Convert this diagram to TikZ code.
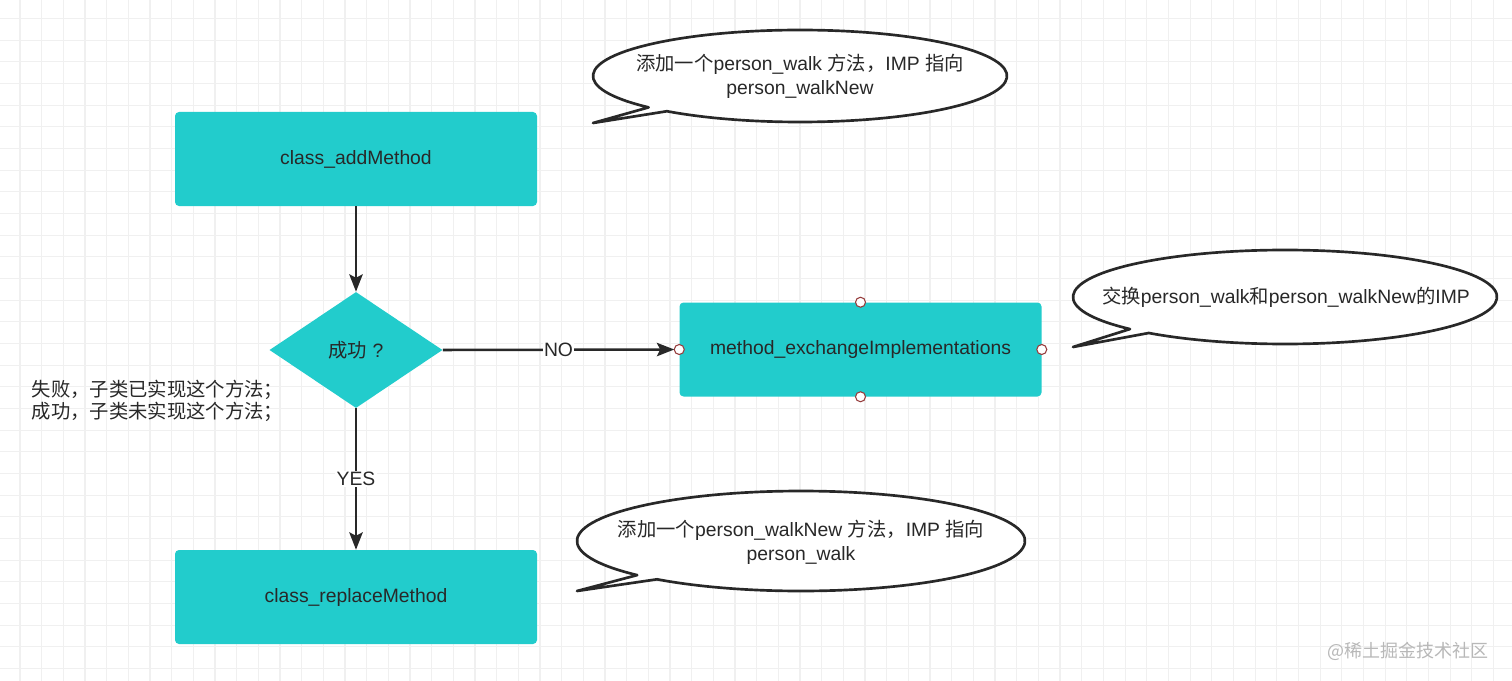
\documentclass[tikz,border=0pt]{standalone}
\usepackage{fontspec}
\setmainfont{Liberation Sans}
\newfontfamily\cjk{Noto Sans CJK SC}
\usetikzlibrary{shapes.geometric,arrows.meta}

\definecolor{boxteal}{RGB}{34,204,204}
\definecolor{inkgray}{RGB}{40,40,40}
\definecolor{portred}{RGB}{150,60,60}
\definecolor{gridminor}{RGB}{240,240,240}

\begin{document}
\begin{tikzpicture}[x=0.75pt,y=-0.75pt,
  font=\fontsize{14.5}{18}\selectfont,
  methodbox/.style={rectangle,rounded corners=3pt,fill=boxteal,text=inkgray,
    minimum width=271.5pt,minimum height=70.5pt},
  checkbox/.style={diamond,fill=boxteal,text=inkgray,inner sep=0pt,
    minimum width=129.75pt,minimum height=87pt},
  flow/.style={draw=inkgray,line width=1.9pt,
    -{Stealth[length=13pt,width=10pt,inset=2.5pt]}},
  flowlabel/.style={fill=white,text=inkgray,inner sep=1pt},
  portdot/.style={draw=portred,fill=white,line width=0.8pt},
  bubble/.style={draw=inkgray,fill=white,line width=2pt,line join=round},
  notetext/.style={align=center,text=inkgray}
]
\useasboundingbox (0,0) rectangle (1512,681);
\fill[white] (0,0) rectangle (1512,681);

% grid
\foreach \gx in {20,41.667,...,1512} \draw[gridminor,line width=0.8pt] (\gx,0) -- (\gx,681);
\foreach \gy in {18.5,40.167,...,681} \draw[gridminor,line width=0.8pt] (0,\gy) -- (1512,\gy);

% flow
\node[methodbox] (add) at (356,159) {class\_addMethod};
\node[checkbox] (cond) at (356,350) {{\cjk 成功} ?};
\node[methodbox] (exch) at (860.5,349.5) {method\_exchangeImplementations};
\node[methodbox] (repl) at (356,597) {class\_replaceMethod};

\foreach \a in {north,south,east,west}
  \draw[portdot] (exch.\a) circle (3.75pt);

\draw[flow] (add) -- (cond);
\draw[flow] (cond.east) -- node[flowlabel] (no) {NO} ([xshift=-3.75pt]exch.west);
\draw[flow] (cond) -- node[flowlabel] (yes) {YES} (repl);

\node[anchor=west,align=left,text=inkgray,font=\cjk\fontsize{14.5}{16.5}\selectfont]
  (result) at (27,401) {失败，子类已实现这个方法；\\成功，子类未实现这个方法；};

% notes
\draw[bubble] (800,76) ++(137:207 and 46)
  arc[start angle=137,end angle=490,x radius=207,y radius=46] -- (593,123) -- cycle;
\draw[bubble] (1285,297) ++(137:212 and 47)
  arc[start angle=137,end angle=490,x radius=212,y radius=47] -- (1073,347) -- cycle;
\draw[bubble] (801,541) ++(137:224 and 50)
  arc[start angle=137,end angle=490,x radius=224,y radius=50] -- (577,591) -- cycle;

\node[notetext] (addnote) at (800,76)
  {{\cjk 添加一个}person\_walk {\cjk 方法，}IMP {\cjk 指向}\\person\_walkNew};
\node[notetext] (exchnote) at (1286,297)
  {{\cjk 交换}person\_walk{\cjk 和}person\_walkNew{\cjk 的}IMP};
\node[notetext] (replnote) at (801,542)
  {{\cjk 添加一个}person\_walkNew {\cjk 方法，}IMP {\cjk 指向}\\person\_walk};

\node[anchor=east,text=black!28,font=\cjk\fontsize{13.5}{16}\selectfont]
  (mark) at (1493,651) {@稀土掘金技术社区};

\end{tikzpicture}
\end{document}
